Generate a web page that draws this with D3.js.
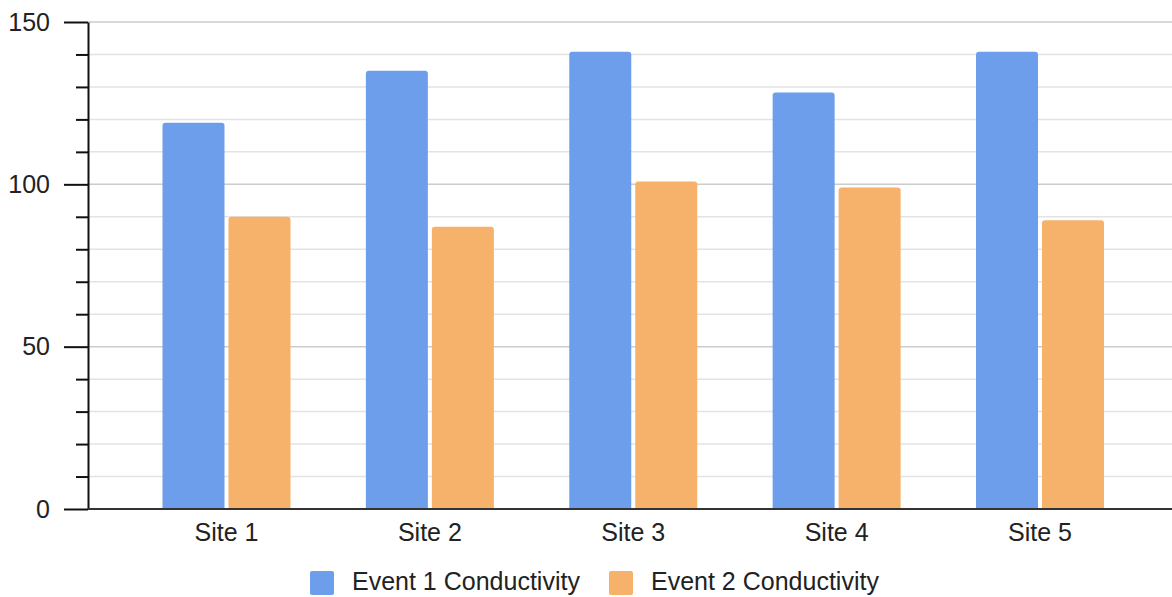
<!DOCTYPE html>
<html>
<head>
<meta charset="utf-8">
<script src="https://cdn.jsdelivr.net/npm/d3@7"></script>
<style>
  html, body { margin: 0; padding: 0; background: #fff; }
  svg { display: block; font-family: "Liberation Sans", Arial, sans-serif; }
</style>
</head>
<body>
<div id="root"></div>
<script>
// chart data
const sites = ["Site 1", "Site 2", "Site 3", "Site 4", "Site 5"];
const seriesNames = ["Event 1 Conductivity", "Event 2 Conductivity"];
const event1 = [119, 135, 140.8, 128.3, 140.8];
const event2 = [90, 86.9, 100.9, 99, 88.9];
const majorTicks = [0, 50, 100, 150];
const minorTicks = [10, 20, 30, 40, 60, 70, 80, 90, 110, 120, 130, 140];
const colors = ["#6d9eeb", "#f6b26b"];

const width = 1172;
const height = 597;
const margins = { top: 22, right: 0, bottom: 88, left: 88 };
const plotBottom = height - margins.bottom;
const fontSize = 25;

const svg = d3
  .select("#root")
  .append("svg")
  .attr("width", width)
  .attr("height", height);

const yScale = d3
  .scaleLinear()
  .domain([0, 150])
  .range([plotBottom, margins.top]);

// band per site, then one sub-band per series
const x0 = d3
  .scaleBand()
  .domain(sites)
  .range([124.8, 1141.7]);
const groupWidth = 128;
const x1 = d3
  .scaleBand()
  .domain(seriesNames)
  .range([0, groupWidth])
  .paddingInner(4 / 66);

// gridlines
const grid = svg.append("g");
grid
  .selectAll("line.minor")
  .data(minorTicks)
  .join("line")
  .attr("class", "minor")
  .attr("x1", margins.left)
  .attr("x2", width)
  .attr("y1", (d) => yScale(d))
  .attr("y2", (d) => yScale(d))
  .attr("stroke", "#e3e3e3")
  .attr("stroke-width", 1.5);
grid
  .selectAll("line.major")
  .data(majorTicks.filter((d) => d > 0))
  .join("line")
  .attr("class", "major")
  .attr("x1", margins.left)
  .attr("x2", width)
  .attr("y1", (d) => yScale(d))
  .attr("y2", (d) => yScale(d))
  .attr("stroke", "#cccccc")
  .attr("stroke-width", 1.5);

// bars, rounded on top only
const barPath = (x, y, w, h, r) =>
  `M${x},${y + h}V${y + r}Q${x},${y} ${x + r},${y}H${x + w - r}` +
  `Q${x + w},${y} ${x + w},${y + r}V${y + h}Z`;

const rows = sites.map((s, i) => ({
  site: s,
  values: [event1[i], event2[i]]
}));

const groups = svg
  .append("g")
  .selectAll("g")
  .data(rows)
  .join("g")
  .attr(
    "transform",
    (d) => `translate(${x0(d.site) + (x0.bandwidth() - groupWidth) / 2},0)`
  );

groups
  .selectAll("path")
  .data((d) => d.values.map((v, j) => ({ key: seriesNames[j], value: v, j })))
  .join("path")
  .attr("fill", (d) => colors[d.j])
  .attr("d", (d) =>
    barPath(
      x1(d.key),
      yScale(d.value),
      x1.bandwidth(),
      plotBottom - yScale(d.value),
      3
    )
  );

// y axis: major ticks with labels, minor ticks without
const yAxis = svg
  .append("g")
  .attr("transform", `translate(${margins.left},0)`)
  .call(
    d3
      .axisLeft(yScale)
      .tickValues(majorTicks)
      .tickSize(24)
      .tickPadding(14)
      .tickSizeOuter(0)
  );
yAxis.select(".domain").attr("stroke", "#111").attr("stroke-width", 2);
yAxis.selectAll(".tick line").attr("stroke", "#111").attr("stroke-width", 2);
yAxis
  .selectAll(".tick text")
  .attr("font-size", fontSize)
  .attr("font-family", "inherit")
  .attr("fill", "#222");

const yMinor = svg
  .append("g")
  .attr("transform", `translate(${margins.left},0)`)
  .call(d3.axisLeft(yScale).tickValues(minorTicks).tickSize(12).tickFormat(""));
yMinor.select(".domain").remove();
yMinor.selectAll(".tick line").attr("stroke", "#111").attr("stroke-width", 2);

// baseline
svg
  .append("line")
  .attr("x1", margins.left)
  .attr("x2", width)
  .attr("y1", yScale(0))
  .attr("y2", yScale(0))
  .attr("stroke", "#333")
  .attr("stroke-width", 2);

// x axis labels
const xAxis = svg
  .append("g")
  .attr("transform", `translate(0,${plotBottom})`)
  .call(d3.axisBottom(x0).tickSize(0).tickPadding(14));
xAxis.select(".domain").remove();
xAxis
  .selectAll(".tick text")
  .attr("font-size", fontSize)
  .attr("font-family", "inherit")
  .attr("fill", "#222");

// legend
const legendX = [310, 609];
const legend = svg
  .append("g")
  .selectAll("g")
  .data(seriesNames)
  .join("g")
  .attr("transform", (d, i) => `translate(${legendX[i]},571)`);
legend
  .append("rect")
  .attr("width", 24)
  .attr("height", 24)
  .attr("rx", 2)
  .attr("fill", (d, i) => colors[i]);
legend
  .append("text")
  .attr("x", 42)
  .attr("y", 19)
  .attr("font-size", fontSize)
  .attr("fill", "#222")
  .text((d) => d);
</script>
</body>
</html>
